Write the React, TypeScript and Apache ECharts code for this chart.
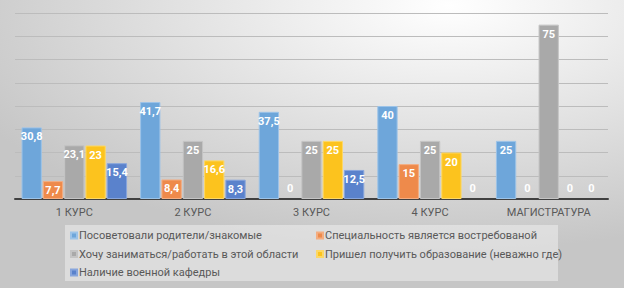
import React, { useEffect, useRef } from "react";
import * as echarts from "echarts";

const categories = ["1 КУРС", "2 КУРС", "3 КУРС", "4 КУРС", "МАГИСТРАТУРА"];
const seriesNames = [
  "Посоветовали родители/знакомые",
  "Специальность является востребованой",
  "Хочу заниматься/работать в этой области",
  "Пришел получить образование (неважно где)",
  "Наличие военной кафедры",
];
const parents = [30.8, 41.7, 37.5, 40, 25];
const demanded = [7.7, 8.4, 0, 15, 0];
const wantWork = [23.1, 25, 25, 25, 75];
const education = [23, 16.6, 25, 20, 0];
const military = [15.4, 8.3, 12.5, 0, 0];
const seriesValues = [parents, demanded, wantWork, education, military];
const colors = ["#6ea6da", "#ee8a4b", "#a9a9a9", "#fcc31e", "#5a82cc"];
const borders = ["#9cc3e8", "#f4ad80", "#c4c4c4", "#fdd865", "#87a5dc"];

export default function App() {
  const ref = useRef<HTMLDivElement>(null);
  useEffect(() => {
    if (!ref.current) return;
    const chart = echarts.init(ref.current, null, { renderer: "svg" });
    const font = "Roboto";
    const legendText = { color: "#595959", fontFamily: font, fontSize: 11, padding: [0, 0, 0, -3] };
    chart.setOption({
      animation: false,
      backgroundColor: {
        type: "radial",
        x: 0.72,
        y: 0.02,
        r: 0.85,
        colorStops: [
          { offset: 0, color: "#ffffff" },
          { offset: 1, color: "#c6c6c6" },
        ],
      },
      graphic: [
        {
          type: "rect",
          shape: { x: 65, y: 225, width: 493, height: 56 },
          style: { fill: "rgba(238,238,238,0.55)" },
          z: 0,
        },
      ],
      grid: { left: 15, right: 16, top: 13, bottom: 89, containLabel: false },
      xAxis: {
        type: "category",
        data: categories,
        axisLine: { lineStyle: { color: "#404040", width: 2 } },
        axisTick: { show: false },
        axisLabel: { color: "#595959", fontFamily: font, fontSize: 11, margin: 8 },
      },
      yAxis: {
        type: "value",
        min: 0,
        max: 80,
        interval: 10,
        axisLabel: { show: false },
        axisLine: { show: false },
        axisTick: { show: false },
        splitLine: { lineStyle: { color: "#bcbcbc", width: 1 } },
      },
      legend: [
        {
          data: [seriesNames[0], seriesNames[2], seriesNames[4]],
          orient: "vertical",
          left: 65,
          top: 225,
          itemWidth: 6,
          itemHeight: 6,
          itemGap: 7.5,
          icon: "rect",
          textStyle: legendText,
        },
        {
          data: [seriesNames[1], seriesNames[3]],
          orient: "vertical",
          left: 311,
          top: 225,
          itemWidth: 6,
          itemHeight: 6,
          itemGap: 7.5,
          icon: "rect",
          textStyle: legendText,
        },
      ],
      series: seriesValues.map((vals, i) => ({
        name: seriesNames[i],
        type: "bar",
        barCategoryGap: "11%",
        barGap: "5%",
        itemStyle: { color: colors[i], borderColor: borders[i], borderWidth: 1 },
        label: {
          show: true,
          position: "insideTop",
          distance: 4,
          color: "#ffffff",
          fontFamily: font,
          fontWeight: "bold",
          fontSize: 11,
          formatter: (p: any) => String(p.value).replace(".", ","),
        },
        data: vals.map((v) =>
          v === 0
            ? { value: v, itemStyle: { borderWidth: 0 }, label: { position: "top", distance: 5 } }
            : v
        ),
      })),
    });
    return () => chart.dispose();
  }, []);
  return <div ref={ref} style={{ width: 624, height: 288, position: "absolute", left: 0, top: 0 }} />;
}
